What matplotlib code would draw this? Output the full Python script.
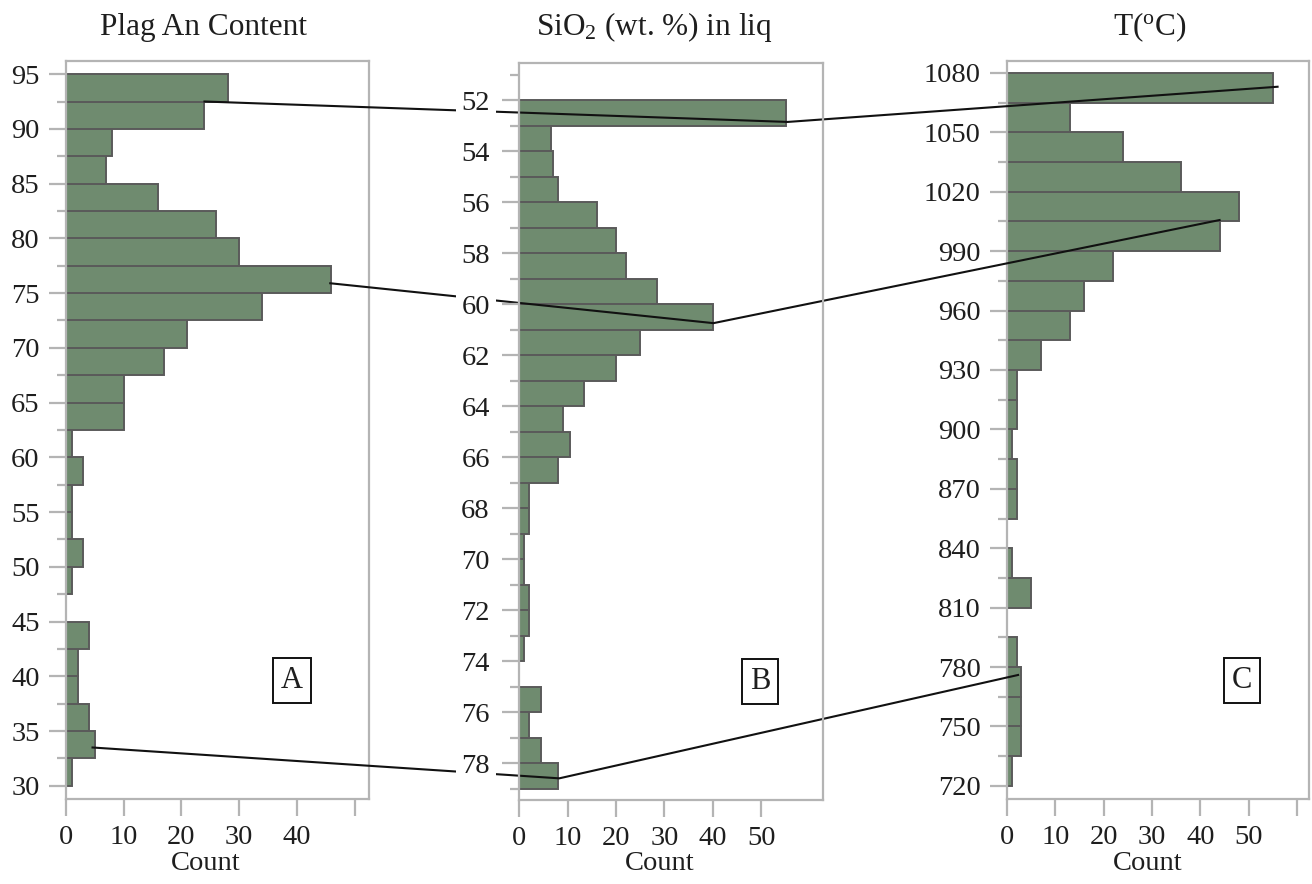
import numpy as np
import matplotlib
matplotlib.use('Agg')
import matplotlib.pyplot as plt

plt.rcParams['font.family'] = ['Liberation Serif', 'DejaVu Serif']
plt.rcParams['mathtext.fontset'] = 'custom'
plt.rcParams['mathtext.rm'] = 'Liberation Serif'
plt.rcParams['mathtext.it'] = 'Liberation Serif:italic'

# histogram A: plagioclase An content, bins of 2.5 from 30 to 95
an_edges = np.arange(30, 95, 2.5)
an_counts = [1, 5, 4, 2, 2, 4, 0, 1, 3, 1, 1, 3, 1,
             10, 10, 17, 21, 34, 46, 30, 26, 16, 7, 8, 24, 28]

# histogram B: SiO2 in liquid, bins of 1 from 52 to 79
si_edges = np.arange(52, 79, 1)
si_counts = [55, 6.5, 7, 8, 16, 20, 22, 28.5, 40, 25, 20, 13.5, 9, 10.5,
             8, 2, 2, 1, 1, 2, 2, 1, 0, 4.5, 2, 4.5, 8]

# histogram C: temperature, bins of 15 from 720 to 1080
t_edges = np.arange(720, 1080, 15)
t_counts = [1, 3, 3, 3, 2, 0, 5, 1, 0, 2, 2, 1, 2, 2,
            7, 13, 16, 22, 44, 48, 36, 24, 13, 55]

# linked samples (count, value) in each panel
link_a = [(24, 92.5), (45.8, 75.9), (4.6, 33.5)]
link_b = [(55.4, 52.86), (40.1, 60.75), (8.3, 78.6)]
link_c = [(56, 1073), (44, 1005.7), (2.3, 776)]

bar_col = '#6f8b6f'
edge_col = '#5a5a5a'
grey = '#b4b4b4'
txt = '#1e1e1e'

fig = plt.figure(figsize=(13.12, 8.84), dpi=100)
ax_a = fig.add_axes([0.0503, 0.0962, 0.2309, 0.8348])
ax_c = fig.add_axes([0.7675, 0.0962, 0.2302, 0.8348])
ax_b = fig.add_axes([0.3956, 0.0950, 0.2317, 0.8337])
ax_b.set_zorder(2)
ax_b.patch.set_alpha(0)


def style(ax):
    for s in ax.spines.values():
        s.set_color(grey)
        s.set_linewidth(1.6)
    ax.tick_params(which='major', direction='out', length=12, width=1.6,
                   color=grey, labelsize=20.5, labelcolor=txt, pad=7)
    ax.tick_params(which='minor', direction='out', length=6.5, width=1.6,
                   color=grey)


ax_a.barh(an_edges, an_counts, height=2.5, align='edge', color=bar_col,
          edgecolor=edge_col, linewidth=1.4)
ax_a.set_ylim(28.8, 96.2)
ax_a.set_xlim(0, 52.5)
ax_a.set_yticks(np.arange(30, 96, 5))
ax_a.set_yticks(np.arange(32.5, 95, 5), minor=True)
ax_a.set_xticks([0, 10, 20, 30, 40, 50])
ax_a.set_xticklabels(['0', '10', '20', '30', '40', ''])
style(ax_a)

ax_b.barh(si_edges, si_counts, height=1, align='edge', color=bar_col,
          edgecolor=edge_col, linewidth=1.4)
ax_b.set_ylim(79.45, 50.55)
ax_b.set_xlim(0, 62.7)
ax_b.set_yticks(np.arange(52, 79, 2))
ax_b.set_yticks(np.arange(51, 80, 2), minor=True)
ax_b.set_xticks([0, 10, 20, 30, 40, 50])
style(ax_b)
ax_b.tick_params(axis='y', which='major', pad=9)

ax_c.barh(t_edges, t_counts, height=15, align='edge', color=bar_col,
          edgecolor=edge_col, linewidth=1.4)
ax_c.set_ylim(713.4, 1086)
ax_c.set_xlim(0, 62.5)
ax_c.set_yticks(np.arange(720, 1081, 30))
ax_c.set_yticks(np.arange(735, 1080, 30), minor=True)
ax_c.set_xticks([0, 10, 20, 30, 40, 50, 60])
ax_c.set_xticklabels(['0', '10', '20', '30', '40', '50', ''])
style(ax_c)

# B tick labels hide the connecting lines behind them
for lab in ax_b.get_yticklabels():
    lab.set_bbox(dict(facecolor='white', edgecolor='none', pad=4))

# panel letters
for ax, letter, xp in [(ax_a, 'A', 0.745), (ax_b, 'B', 0.793), (ax_c, 'C', 0.778)]:
    ax.text(xp, 0.161, letter, transform=ax.transAxes, ha='center', va='center',
            fontsize=22, color=txt,
            bbox=dict(boxstyle='square,pad=0.26', facecolor='white',
                      edgecolor='#111111', linewidth=1.4))

# titles and axis labels
fig.text(203 / 1312, 1 - 27 / 884, 'Plag An Content', ha='center', va='center',
         fontsize=22.5, color=txt)
fig.text(654 / 1312, 1 - 27 / 884, r'SiO$_2$ (wt. %) in liq', ha='center',
         va='center', fontsize=22.5, color=txt)
fig.text(1150 / 1312, 1 - 27 / 884, r'T($^{\mathrm{o}}$C)', ha='center',
         va='center', fontsize=22.5, color=txt)
for xc in [206, 660, 1148]:
    fig.text(xc / 1312, 1 - 864 / 884, 'Count', ha='center', va='center',
             fontsize=20.5, color=txt)

# connecting lines across the three panels (above bars, below B's tick labels)
inv = fig.transFigure.inverted()
for pa, pb, pc in zip(link_a, link_b, link_c):
    pts = [ax_a.transData.transform(pa), ax_b.transData.transform(pb),
           ax_c.transData.transform(pc)]
    pts = inv.transform(np.array(pts))
    ax_b.plot(pts[:, 0], pts[:, 1], color='#111111', lw=1.5,
              transform=fig.transFigure, clip_on=False, zorder=1.2)

fig.savefig('out.png', dpi=100, facecolor='white')
